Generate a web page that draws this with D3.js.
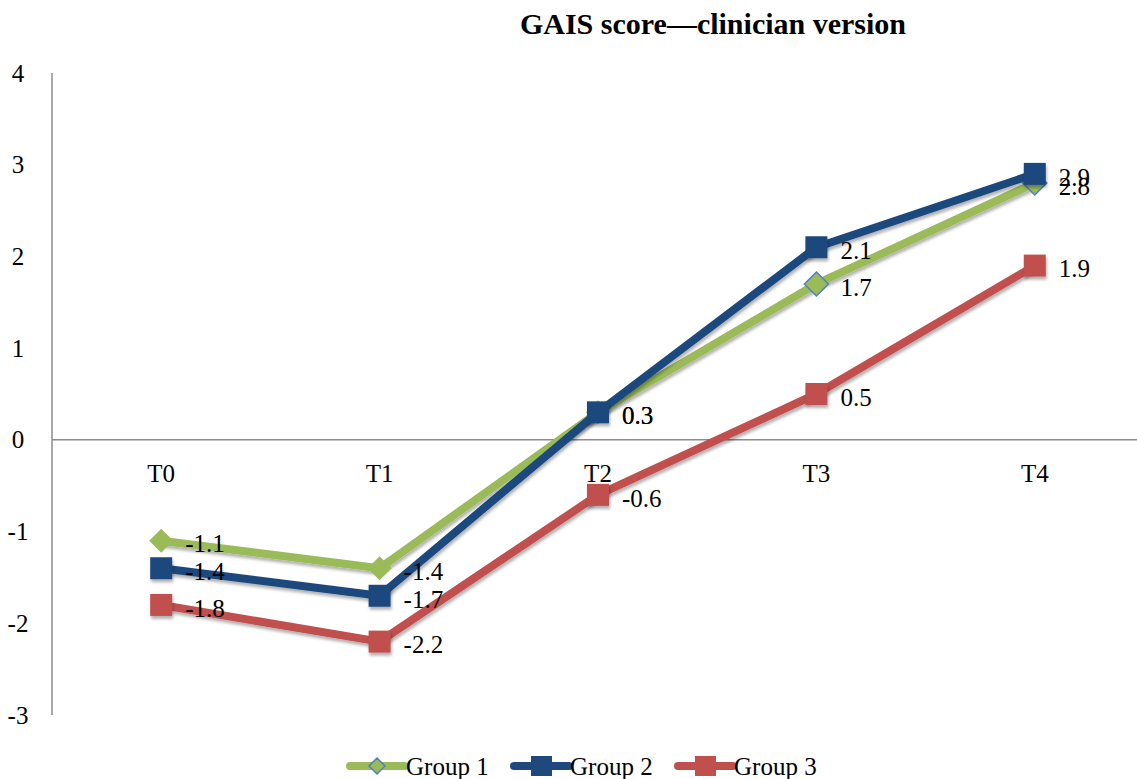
<!DOCTYPE html>
<html>
<head>
<meta charset="utf-8">
<script src="https://cdn.jsdelivr.net/npm/d3@7"></script>
<style>
  body { margin: 0; background: #fff; }
  svg { display: block; }
</style>
</head>
<body>
<div class="chart"></div>
<script>
const width = 1137;
const height = 779;

const categories = ["T0", "T1", "T2", "T3", "T4"];
const group1 = [-1.1, -1.4, 0.3, 1.7, 2.8];
const group2 = [-1.4, -1.7, 0.3, 2.1, 2.9];
const group3 = [-1.8, -2.2, -0.6, 0.5, 1.9];
const yTicks = [4, 3, 2, 1, 0, -1, -2, -3];
const seriesNames = ["Group 1", "Group 2", "Group 3"];

const series = [
  { name: seriesNames[0], values: group1, color: "#9BBB59", shape: "diamond" },
  { name: seriesNames[1], values: group2, color: "#1F497D", shape: "square" },
  { name: seriesNames[2], values: group3, color: "#C0504D", shape: "square" }
];

const serif = "'Liberation Serif', 'DejaVu Serif', serif";
const fs = 25;

const svg = d3.select(".chart")
  .append("svg")
  .attr("width", width)
  .attr("height", height);

const defs = svg.append("defs");
const shadow = defs.append("filter").attr("id", "shadow")
  .attr("x", "-30%").attr("y", "-30%").attr("width", "160%").attr("height", "160%");
shadow.append("feDropShadow")
  .attr("dx", 1).attr("dy", 3).attr("stdDeviation", 1.5)
  .attr("flood-color", "#000").attr("flood-opacity", 0.3);

const x = d3.scaleBand()
  .domain(categories)
  .range([52, 1144])
  .padding(0);
const cx = d => x(d) + x.bandwidth() / 2;

const y = d3.scaleLinear()
  .domain([-3, 4])
  .range([715, 73]);

// title
svg.append("text")
  .attr("x", 713)
  .attr("y", 34)
  .attr("text-anchor", "middle")
  .attr("font-family", serif)
  .attr("font-weight", "bold")
  .attr("font-size", 30)
  .attr("fill", "#000")
  .text("GAIS score\u2014clinician version");

// y axis (line + labels, no ticks)
const yAxis = d3.axisLeft(y).tickValues(yTicks).tickSize(0).tickPadding(0).tickFormat(d => String(d));
const gy = svg.append("g")
  .attr("transform", "translate(52,0)")
  .call(yAxis);
gy.select(".domain").attr("stroke", "#8c8c8c").attr("stroke-width", 1.5).attr("d", `M0,${y(-3)}V${y(4)}`);
gy.selectAll("text")
  .attr("x", -34)
  .attr("text-anchor", "middle")
  .attr("font-family", serif)
  .attr("font-size", fs)
  .attr("fill", "#000");

// x axis at zero
const xAxis = d3.axisBottom(x).tickSize(0).tickPadding(0);
const gx = svg.append("g")
  .attr("transform", `translate(0,${y(0)})`)
  .call(xAxis);
gx.select(".domain").attr("stroke", "#8c8c8c").attr("stroke-width", 1.5).attr("d", `M52,0H${width}`);
gx.selectAll("text")
  .attr("y", 24)
  .attr("dy", "0.71em")
  .attr("font-family", serif)
  .attr("font-size", fs)
  .attr("fill", "#000");

const line = d3.line()
  .x((d, i) => cx(categories[i]))
  .y(d => y(d));

const diamond = s => `M0,${-s}L${s},0L0,${s}L${-s},0Z`;

series.forEach(s => {
  const g = svg.append("g");
  g.append("path")
    .datum(s.values)
    .attr("d", line)
    .attr("fill", "none")
    .attr("stroke", s.color)
    .attr("stroke-width", 8)
    .attr("stroke-linejoin", "round")
    .attr("filter", "url(#shadow)");

  const pts = g.selectAll(".pt")
    .data(s.values)
    .enter()
    .append("g")
    .attr("transform", (d, i) => `translate(${cx(categories[i])},${y(d)})`);

  if (s.shape === "square") {
    pts.append("rect")
      .attr("x", -11).attr("y", -11)
      .attr("width", 22).attr("height", 22)
      .attr("fill", s.color)
      .attr("filter", "url(#shadow)");
  } else {
    pts.append("path")
      .attr("d", diamond(12))
      .attr("fill", s.color)
      .attr("stroke", (d, i) => i >= 3 ? "#4F81BD" : "none")
      .attr("stroke-width", 1.5);
  }
});

// data labels
series.forEach(s => {
  svg.append("g").selectAll("text")
    .data(s.values)
    .enter()
    .append("text")
    .attr("x", (d, i) => cx(categories[i]) + 24)
    .attr("y", d => y(d) + 3)
    .attr("dy", "0.35em")
    .attr("font-family", serif)
    .attr("font-size", fs)
    .attr("fill", "#000")
    .text(d => d.toFixed(1));
});

// legend
const legendX = [350, 514, 678];
const legendY = 766;
series.forEach((s, i) => {
  const g = svg.append("g").attr("transform", `translate(${legendX[i]},${legendY})`);
  g.append("line")
    .attr("x1", 0).attr("x2", 55)
    .attr("stroke", s.color)
    .attr("stroke-width", 8)
    .attr("stroke-linecap", "round");
  if (s.shape === "square") {
    g.append("rect").attr("x", 17).attr("y", -10).attr("width", 21).attr("height", 20).attr("fill", s.color);
  } else {
    g.append("path")
      .attr("d", diamond(8))
      .attr("transform", "translate(27,0)")
      .attr("fill", s.color)
      .attr("stroke", "#4F81BD")
      .attr("stroke-width", 1.5);
  }
  g.append("text")
    .attr("x", 56)
    .attr("dy", "0.35em")
    .attr("font-family", serif)
    .attr("font-size", fs)
    .attr("fill", "#000")
    .text(s.name);
});
</script>
</body>
</html>
